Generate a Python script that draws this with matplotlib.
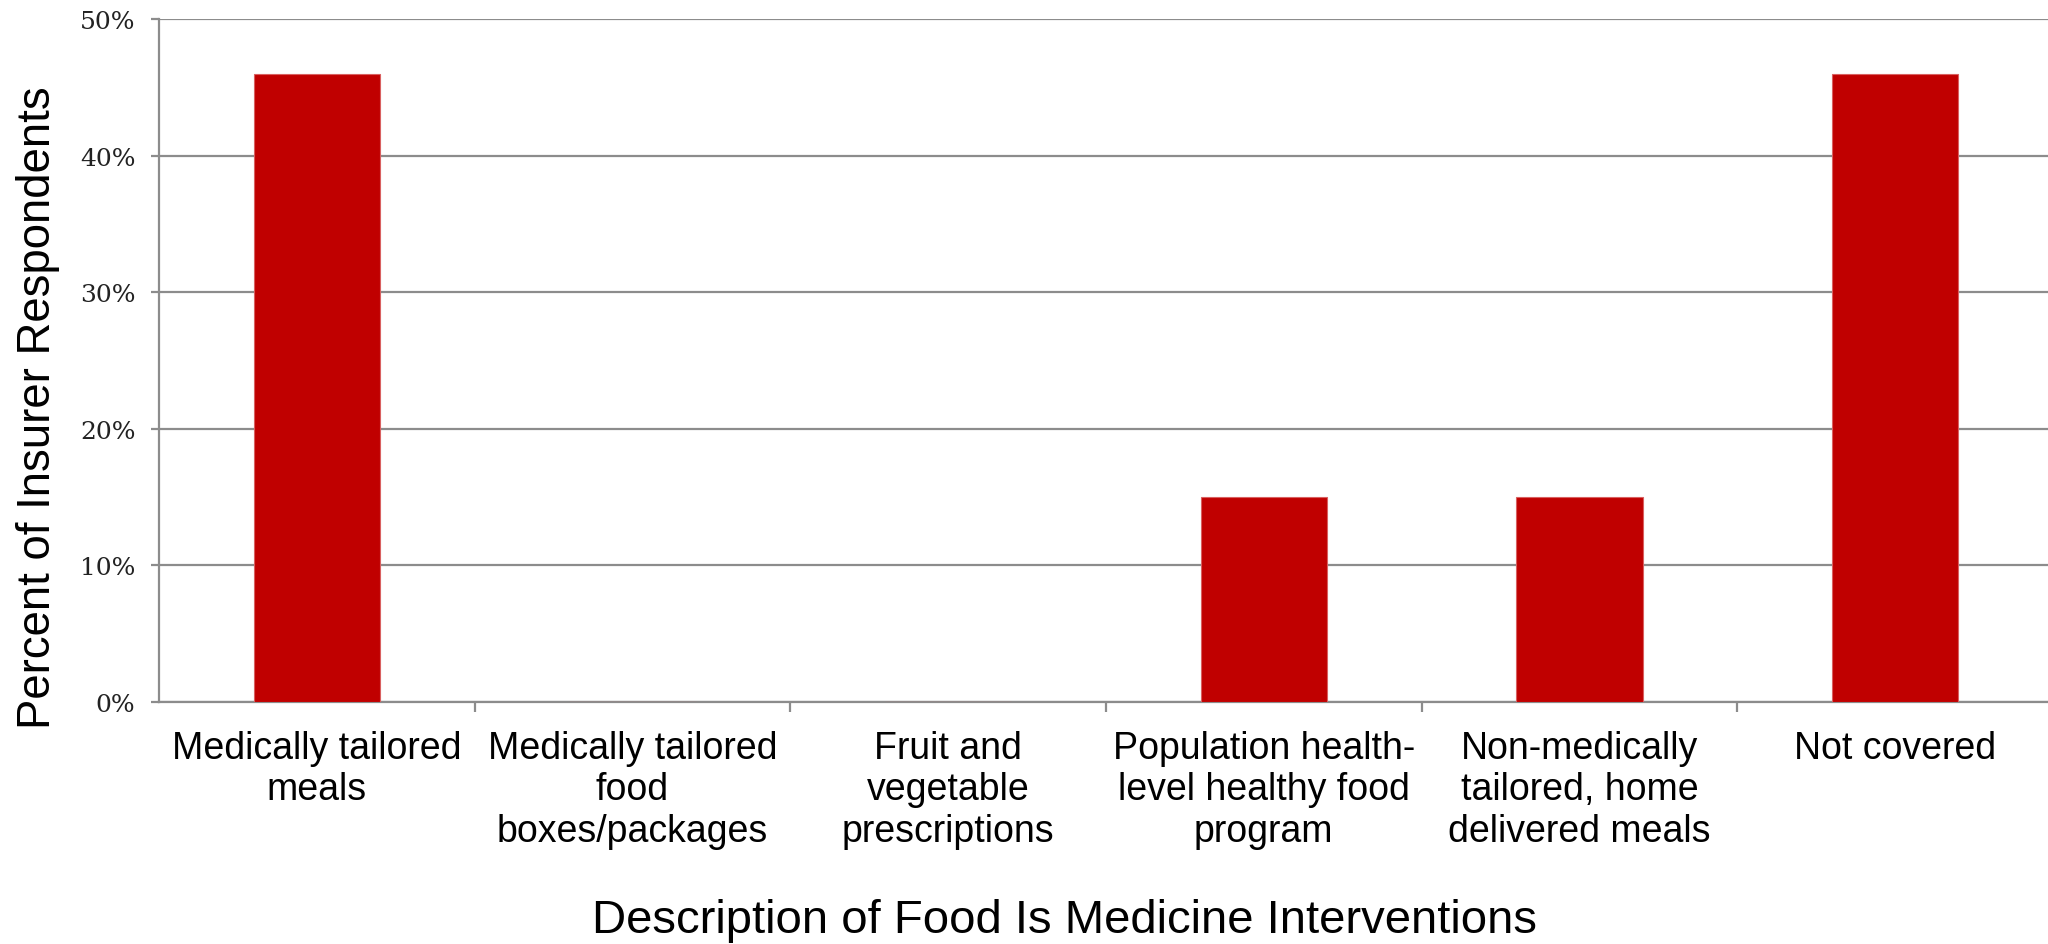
import matplotlib
matplotlib.use("Agg")
import matplotlib.pyplot as plt
from matplotlib.ticker import FixedLocator, PercentFormatter

# categories and values
categories = ["Medically tailored\nmeals",
              "Medically tailored\nfood\nboxes/packages",
              "Fruit and\nvegetable\nprescriptions",
              "Population health-\nlevel healthy food\nprogram",
              "Non-medically\ntailored, home\ndelivered meals",
              "Not covered"]
percent_values = [46, 0, 0, 15, 15, 46]
y_ticks = [0, 10, 20, 30, 40, 50]

fig = plt.figure(figsize=(20.48, 9.45), dpi=100)
ax = fig.add_axes([159/2048, 1 - 703/945, 1894/2048, 683/945])

x = list(range(len(categories)))
ax.bar(x, percent_values, width=0.4, color="#C00000", edgecolor="#d96060", linewidth=0.8, zorder=3)

ax.set_xlim(-0.5, len(categories) - 0.5)
ax.set_ylim(0, 50)
ax.set_yticks(y_ticks)
ax.yaxis.set_major_formatter(PercentFormatter(decimals=0))
ax.grid(axis="y", color="#8c8c8c", linewidth=1.6, zorder=0)

ax.set_xticks(x)
ax.set_xticklabels(categories, fontsize=27, family="Liberation Sans", linespacing=1.2)
ax.xaxis.set_minor_locator(FixedLocator([i + 0.5 for i in x[:-1]]))
ax.tick_params(axis="x", which="major", length=0, pad=20)
ax.tick_params(axis="x", which="minor", length=7, width=1.6, color="#8c8c8c")
ax.tick_params(axis="y", length=6, width=1.6, color="#8c8c8c", pad=11, labelsize=18, labelcolor="#222222")
for lbl in ax.get_yticklabels():
    lbl.set_family("DejaVu Serif")

for side in ["top", "right"]:
    ax.spines[side].set_visible(False)
for side in ["left", "bottom"]:
    ax.spines[side].set_color("#8c8c8c")
    ax.spines[side].set_linewidth(1.6)

fig.text(38/2048, 1 - 408/945, "Percent of Insurer Respondents", rotation=90,
         ha="center", va="center", fontsize=32.8, family="Liberation Sans")
fig.text(1065/2048, 1 - 933/945, "Description of Food Is Medicine Interventions",
         ha="center", va="baseline", fontsize=34, family="Liberation Sans")

fig.savefig("out.png", dpi=100)
